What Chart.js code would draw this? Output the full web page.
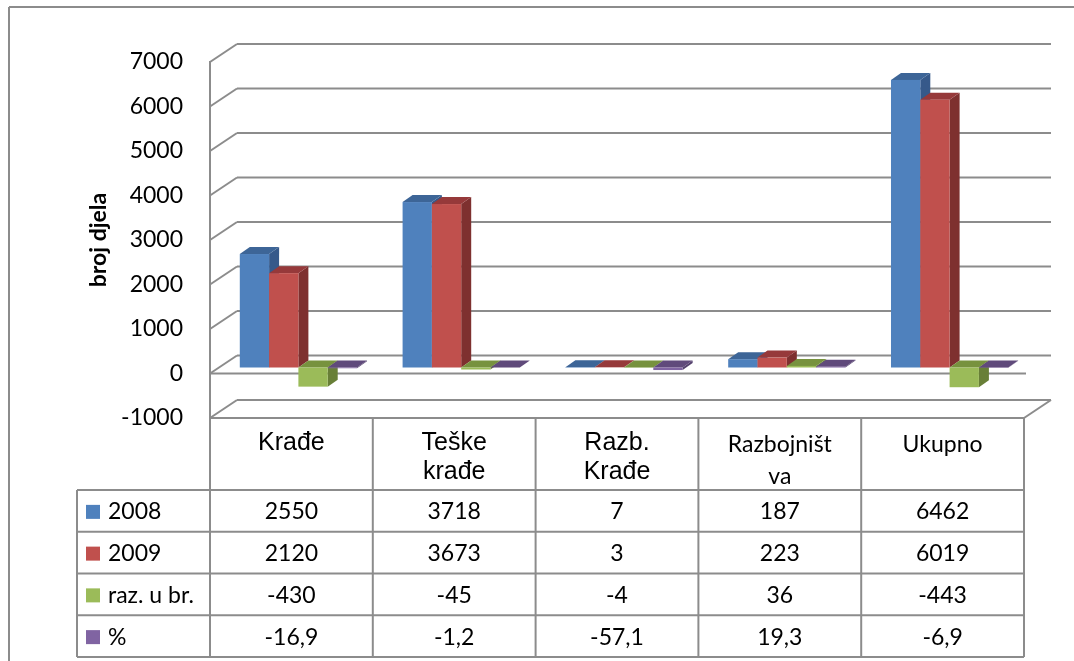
<!DOCTYPE html>
<html><head><meta charset="utf-8">
<script src="https://cdn.jsdelivr.net/npm/chart.js@4"></script>
<style>html,body{margin:0;padding:0;background:#fff;overflow:hidden;} #c{display:block;}</style>
</head><body>
<canvas id="c" width="1074" height="661"></canvas>
<script>
// ---- data ----
const categories = ['Krađe', 'Teške krađe', 'Razb. Krađe', 'Razbojništva', 'Ukupno'];
const headerLines = [['Krađe'], ['Teške', 'krađe'], ['Razb.', 'Krađe'], ['Razbojništ', 'va'], ['Ukupno']];
const seriesNames = ['2008', '2009', 'raz. u br.', '%'];
const values2008 = [2550, 3718, 7, 187, 6462];
const values2009 = [2120, 3673, 3, 223, 6019];
const valuesDiff = [-430, -45, -4, 36, -443];
const valuesPct = [-16.9, -1.2, -57.1, 19.3, -6.9];
const yMin = -1000, yMax = 7000, yStep = 1000;
const yTitle = 'broj djela';

// ---- styles ----
const FRONT = ['#4F81BD', '#C0504D', '#9BBB59', '#8064A2'];
const TOPC = ['#3D6597', '#96393A', '#77923E', '#604A7B'];
const SIDE = ['#36598A', '#7E302F', '#687F37', '#54416D'];
const GRID = '#8C8C8C';
const WALL_DX = 27, WALL_DY = 18;
const BAR_DX = 7, BAR_DY = -6;
const BD_X = 10, BD_Y = 7;
const allSeries = [values2008, values2009, valuesDiff, valuesPct];
const headerFont = ['25px "Liberation Sans"', '25px "Liberation Sans"', '25px "Liberation Sans"', '23px Lato', '23px Lato'];
const headerBase = [[450], [450, 479], [450, 479], [452, 484], [452]];

function fmt(v) { return String(v).replace('.', ','); }

function line(ctx, x1, y1, x2, y2) { ctx.beginPath(); ctx.moveTo(x1, y1); ctx.lineTo(x2, y2); ctx.stroke(); }
function poly(ctx, pts, color) {
  ctx.beginPath(); ctx.moveTo(pts[0][0], pts[0][1]);
  for (let k = 1; k < pts.length; k++) ctx.lineTo(pts[k][0], pts[k][1]);
  ctx.closePath(); ctx.fillStyle = color; ctx.fill();
}

const plugin3d = {
  id: 'plugin3d',
  beforeDatasetsDraw(chart) {
    const ctx = chart.ctx, ys = chart.scales.y, ca = chart.chartArea;
    const L = ca.left, R = ca.right;
    ctx.save();
    ctx.strokeStyle = GRID; ctx.lineWidth = 2; ctx.lineCap = 'butt';
    for (let v = yMin; v <= yMax; v += yStep) {
      const y = ys.getPixelForValue(v);
      line(ctx, L, y, L + WALL_DX, y - WALL_DY);
      line(ctx, L + WALL_DX, y - WALL_DY, R + WALL_DX, y - WALL_DY);
    }
    const yb = ys.getPixelForValue(yMin);
    line(ctx, R + WALL_DX, yb - WALL_DY, R, yb);
    const y0 = ys.getPixelForValue(0);
    line(ctx, L, y0, R + 2, y0);
    line(ctx, L, ys.getPixelForValue(yMax) - 1, L, yb);
    // bars
    const n = categories.length;
    for (let i = 0; i < n; i++) {
      for (let d = 0; d < chart.data.datasets.length; d++) {
        const el = chart.getDatasetMeta(d).data[i];
        const p = el.getProps(['x', 'y', 'base', 'width'], true);
        const x0 = p.x - p.width / 2 + BAR_DX, x1 = p.x + p.width / 2 + BAR_DX;
        const top = Math.min(p.y, p.base) + BAR_DY, bot = Math.max(p.y, p.base) + BAR_DY;
        poly(ctx, [[x1, top], [x1 + BD_X, top - BD_Y], [x1 + BD_X, bot - BD_Y], [x1, bot]], SIDE[d]);
        poly(ctx, [[x0, top], [x0 + BD_X, top - BD_Y], [x1 + BD_X, top - BD_Y], [x1, top]], TOPC[d]);
        ctx.fillStyle = FRONT[d];
        ctx.fillRect(x0, top, x1 - x0, bot - top);
      }
    }
    ctx.restore();
    return false;
  },
  afterDraw(chart) {
    const ctx = chart.ctx, ys = chart.scales.y, xs = chart.scales.x, ca = chart.chartArea;
    const L = ca.left, R = ca.right, n = categories.length;
    const colW = (R - L) / n;
    const tTop = ys.getPixelForValue(yMin);
    const rowsTop = tTop + 72, rowH = 41.75, labL = 77;
    const tBot = rowsTop + rowH * seriesNames.length;
    ctx.save();
    ctx.strokeStyle = GRID; ctx.lineWidth = 2;
    // outer frame
    line(ctx, 9, 7, 1074, 7);
    line(ctx, 9, 7, 9, 661);
    // table lines
    line(ctx, L, tTop, R, tTop);
    for (let k = 0; k <= n; k++) line(ctx, L + k * colW, tTop, L + k * colW, tBot);
    line(ctx, labL, rowsTop, labL, tBot);
    for (let r = 0; r <= seriesNames.length; r++) line(ctx, labL, rowsTop + r * rowH, R, rowsTop + r * rowH);
    // header
    ctx.fillStyle = '#000'; ctx.textAlign = 'center'; ctx.textBaseline = 'alphabetic';
    for (let i = 0; i < n; i++) {
      const cx = xs.getPixelForValue(i);
      ctx.font = headerFont[i];
      headerLines[i].forEach((t, j) => ctx.fillText(t, cx, headerBase[i][j]));
    }
    // rows
    ctx.font = '23px Lato'; ctx.textBaseline = 'middle';
    for (let r = 0; r < seriesNames.length; r++) {
      const cy = rowsTop + r * rowH + rowH / 2 + 1;
      ctx.fillStyle = FRONT[r];
      ctx.fillRect(86, cy - 7, 14, 14);
      ctx.fillStyle = '#000'; ctx.textAlign = 'left';
      ctx.fillText(seriesNames[r], 108, cy);
      ctx.textAlign = 'center';
      for (let i = 0; i < n; i++) ctx.fillText(fmt(allSeries[r][i]), xs.getPixelForValue(i), cy);
    }
    ctx.restore();
  }
};

new Chart(document.getElementById('c'), {
  type: 'bar',
  data: {
    labels: categories,
    datasets: seriesNames.map((s, d) => ({
      label: s, data: allSeries[d], backgroundColor: FRONT[d],
      categoryPercentage: 0.72, barPercentage: 1
    }))
  },
  options: {
    responsive: false, animation: false,
    layout: { padding: { left: 76, right: 50, top: 62, bottom: 243 } },
    plugins: { legend: { display: false }, tooltip: { enabled: false } },
    scales: {
      x: { display: false },
      y: {
        min: yMin, max: yMax,
        afterFit(scale) { scale.width = 134; },
        ticks: { stepSize: yStep, padding: 27, color: '#000', font: { family: 'Lato', size: 23 },
                 callback: (v) => String(v) },
        grid: { display: false, drawTicks: false },
        border: { display: false },
        title: { display: true, text: yTitle, color: '#000', padding: { top: 9, bottom: 0 }, font: { family: 'Lato', size: 23, weight: 'bold' } }
      }
    }
  },
  plugins: [plugin3d]
});
</script>
</body></html>
